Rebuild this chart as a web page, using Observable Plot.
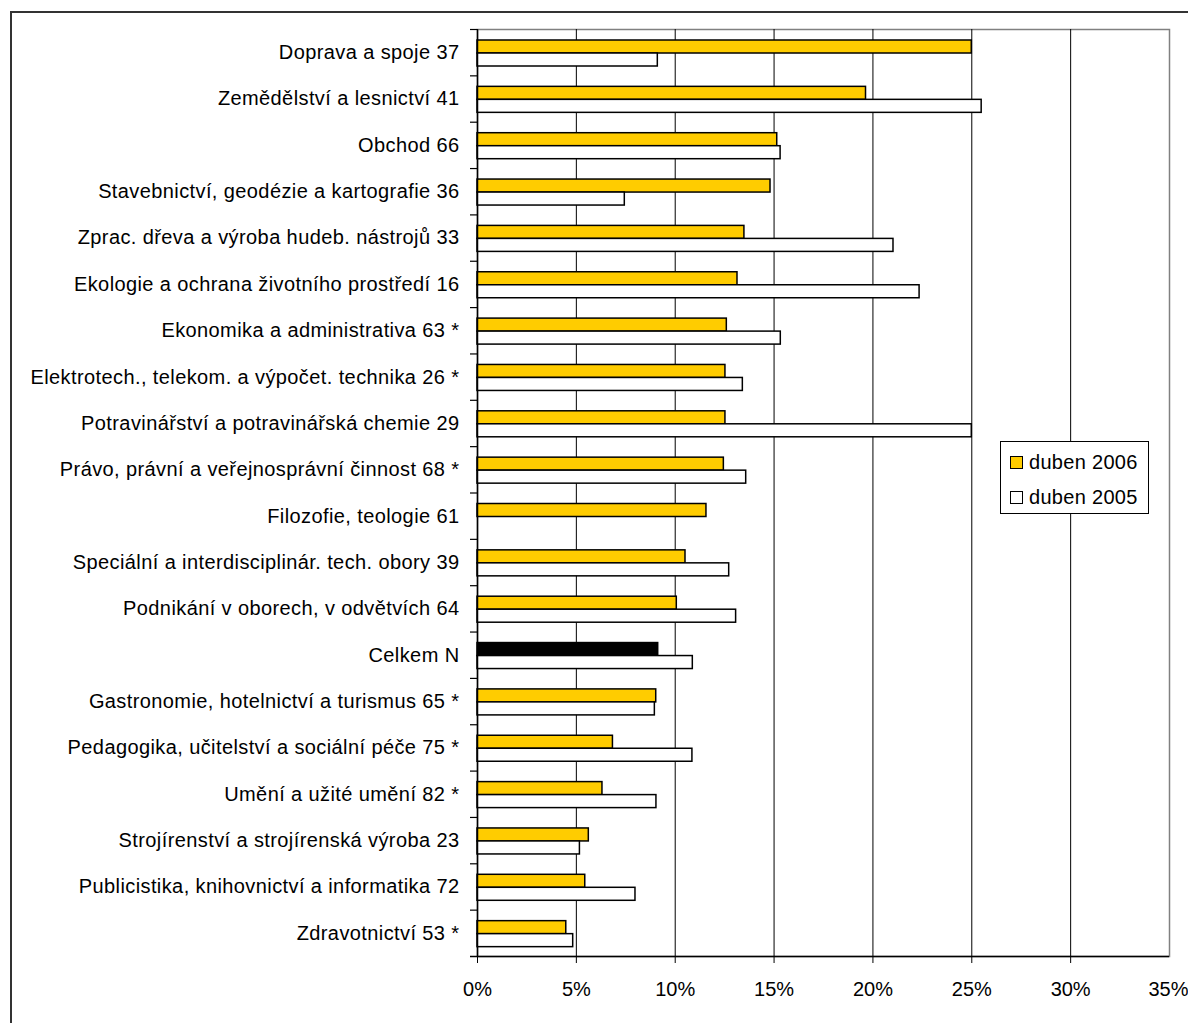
<!DOCTYPE html>
<html><head><meta charset="utf-8">
<script src="https://cdn.jsdelivr.net/npm/d3@7"></script>
<script src="https://cdn.jsdelivr.net/npm/@observablehq/plot@0.6"></script>
<style>
body{margin:0;background:#fff;font-family:"Liberation Sans",Arial,sans-serif;}
#wrap{position:relative;width:1188px;height:1023px;overflow:hidden;}
#outer{position:absolute;left:10px;top:11px;width:1300px;height:1100px;border-left:2px solid #333;border-top:2px solid #333;pointer-events:none;z-index:2;}
#legend{position:absolute;left:1000px;top:441px;width:147px;height:71px;border:1px solid #000;background:#fff;font-size:20px;letter-spacing:0.3px;z-index:3;}
.item{position:absolute;left:9px;height:24px;display:flex;align-items:center;white-space:nowrap;}
.sw{width:11px;height:11px;border:1.5px solid #000;margin-right:6px;}
#chart{position:absolute;left:0;top:0;}
#chart svg g[aria-label="y-axis tick label"] text{letter-spacing:0.4px;}
</style></head><body><div id="wrap"><div id="chart"></div><div id="outer"></div><div id="legend"></div></div>
<script>
const categories = [
  "Doprava a spoje 37",
  "Zemědělství a lesnictví 41",
  "Obchod 66",
  "Stavebnictví, geodézie a kartografie 36",
  "Zprac. dřeva a výroba hudeb. nástrojů 33",
  "Ekologie a ochrana životního prostředí 16",
  "Ekonomika a administrativa 63 *",
  "Elektrotech., telekom. a výpočet. technika 26 *",
  "Potravinářství a potravinářská chemie 29",
  "Právo, právní a veřejnosprávní činnost 68 *",
  "Filozofie, teologie 61",
  "Speciální a interdisciplinár. tech. obory 39",
  "Podnikání v oborech, v odvětvích 64",
  "Celkem N",
  "Gastronomie, hotelnictví a turismus 65 *",
  "Pedagogika, učitelství a sociální péče 75 *",
  "Umění a užité umění 82 *",
  "Strojírenství a strojírenská výroba 23",
  "Publicistika, knihovnictví a informatika 72",
  "Zdravotnictví 53 *"
];
const values2006 = [25.0, 19.65, 15.16, 14.82, 13.5, 13.15, 12.61, 12.54, 12.54, 12.46, 11.58, 10.52, 10.08, 9.14, 9.04, 6.85, 6.32, 5.63, 5.45, 4.49];
const values2005 = [9.12, 25.5, 15.33, 7.45, 21.04, 22.36, 15.34, 13.42, 25.0, 13.59, null, 12.73, 13.08, 10.89, 8.97, 10.87, 9.05, 5.18, 7.99, 4.84];
const xTicks = [0, 5, 10, 15, 20, 25, 30, 35];
const seriesLabels = ["duben 2006", "duben 2005"];
const seriesColors = ["#FFCC00", "#FFFFFF"];
const totalCategory = "Celkem N";
const totalColor = "#000000";

const W = 1188, H = 1023, mL = 477, mR = 19, mT = 29, mB = 67;
const band = (H - mT - mB) / categories.length;
const pxPerUnit = (W - mL - mR) / 35;
const tickLen = 7 / pxPerUnit;

const d06 = categories.map((c, i) => ({cat: c, v: values2006[i]}));
const d05 = categories.map((c, i) => ({cat: c, v: values2005[i]})).filter(d => d.v != null);
const fmt = d => d + "%";

const chart = Plot.plot({
  width: W, height: H,
  marginLeft: mL, marginRight: mR, marginTop: mT, marginBottom: mB,
  style: {fontFamily: "Liberation Sans, Arial, sans-serif", fontSize: "20px", background: "transparent", color: "#000"},
  x: {domain: [0, 35], label: null},
  y: {domain: categories, padding: 0, round: false, label: null},
  marks: [
    Plot.frame({stroke: "#808080", strokeWidth: 1.5}),
    Plot.ruleX(xTicks.slice(1, -1), {stroke: "#000", strokeWidth: 1}),
    Plot.barX(d06, {y: "cat", x: "v", fill: d => d.cat === totalCategory ? totalColor : seriesColors[0], stroke: "#000", strokeWidth: 1.5, insetTop: 11, insetBottom: band - 24}),
    Plot.barX(d05, {y: "cat", x: "v", fill: seriesColors[1], stroke: "#000", strokeWidth: 1.5, insetTop: 24, insetBottom: band - 37}),
    Plot.ruleX([0], {stroke: "#000", strokeWidth: 1.5}),
    Plot.ruleY(categories, {y: d => d, dy: -band / 2, x1: -tickLen, x2: 0, stroke: "#000", strokeWidth: 1.2}),
    Plot.ruleY([categories[categories.length - 1]], {y: d => d, dy: band / 2, x1: -tickLen, x2: 35, stroke: "#000", strokeWidth: 1.5}),
    Plot.axisX(xTicks.slice(0, -1), {anchor: "bottom", label: null, tickSize: 7, tickPadding: 18, tickFormat: fmt, fontSize: 20}),
    Plot.axisX(xTicks.slice(-1), {anchor: "bottom", label: null, tickSize: 7, tickPadding: 18, tickFormat: fmt, fontSize: 20, textAnchor: "end", dx: 19}),
    Plot.axisY({anchor: "left", label: null, tickSize: 0, tickPadding: 18, fontSize: 20})
  ]
});
document.getElementById("chart").appendChild(chart);

const legend = document.getElementById("legend");
seriesLabels.forEach((lab, i) => {
  const it = document.createElement("div");
  it.className = "item";
  it.style.top = (8 + i * 35) + "px";
  const sw = document.createElement("span");
  sw.className = "sw";
  sw.style.background = seriesColors[i];
  const tx = document.createElement("span");
  tx.textContent = lab;
  it.appendChild(sw); it.appendChild(tx);
  legend.appendChild(it);
});
</script>
</body></html>
